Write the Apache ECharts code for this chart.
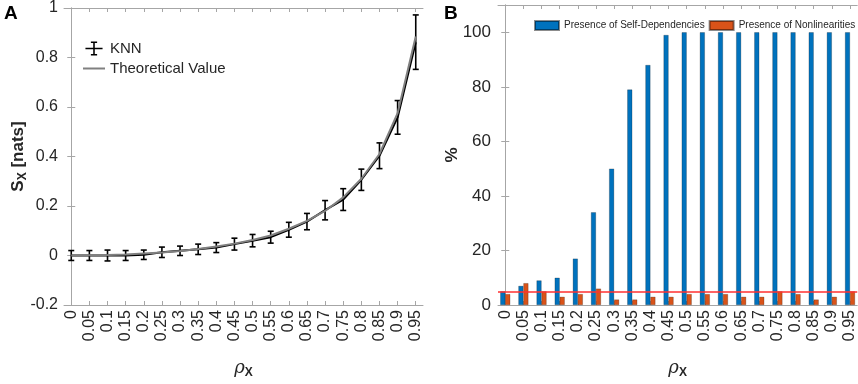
<!DOCTYPE html>
<html>
<head>
<meta charset="utf-8">
<script src="https://cdn.jsdelivr.net/npm/echarts@6/dist/echarts.min.js"></script>
<style>
html, body { margin: 0; padding: 0; background: #fff; }
#main { width: 858px; height: 384px; }
</style>
</head>
<body>
<div id="main"></div>
<script>
var rhoLabels = ['0', '0.05', '0.1', '0.15', '0.2', '0.25', '0.3', '0.35', '0.4', '0.45',
	'0.5', '0.55', '0.6', '0.65', '0.7', '0.75', '0.8', '0.85', '0.9', '0.95'];
var knnMean = [0, 0, 0, 0, 0.003, 0.013, 0.019, 0.025, 0.032, 0.046,
	0.06, 0.074, 0.104, 0.137, 0.183, 0.226, 0.306, 0.403, 0.558, 0.862];
var knnErr = [0.02, 0.02, 0.022, 0.02, 0.019, 0.021, 0.019, 0.021, 0.02, 0.024,
	0.025, 0.024, 0.03, 0.033, 0.039, 0.044, 0.043, 0.052, 0.068, 0.11];
var theory = [0, 0.001, 0.002, 0.004, 0.008, 0.012, 0.018, 0.026, 0.036, 0.048,
	0.063, 0.081, 0.108, 0.14, 0.18, 0.235, 0.31, 0.41, 0.575, 0.885];
var selfDep = [5, 7, 9, 10, 17, 34, 50, 79, 88, 99,
	100, 100, 100, 100, 100, 100, 100, 100, 100, 100];
var nonLin = [4, 8, 5, 3, 4, 6, 2, 2, 3, 3,
	4, 4, 4, 3, 3, 5, 4, 2, 3, 5];
var threshold = 5;

var rhoVals = rhoLabels.map(Number);
function pairs(ys) {
	return rhoVals.map(function(x, i) { return [x, ys[i]]; });
}

var labelColor = '#262626';
var lineColor = '#a6a6a6';
var font = 'Liberation Sans';

function xAxisDef(grid, show) {
	return {
		type: 'value',
		gridIndex: grid,
		min: -0.02,
		max: 0.97,
		position: show ? 'bottom' : 'top',
		axisLine: { show: true, onZero: false, lineStyle: { color: lineColor, width: 1 } },
		axisTick: { show: true, inside: true, length: 4, customValues: rhoVals, lineStyle: { color: lineColor } },
		axisLabel: {
			show: show,
			customValues: rhoVals,
			rotate: 90,
			color: labelColor,
			fontSize: 16,
			fontFamily: font,
			margin: 5,
			formatter: function(v) { return String(v); }
		},
		splitLine: { show: false },
		name: show ? '{r|ρ}{s|X}' : '',
		nameLocation: 'middle',
		nameGap: 52,
		nameMoveOverlap: false,
		nameTextStyle: {
			rich: {
				r: { fontSize: 18, fontStyle: 'italic', fontFamily: 'DejaVu Serif', color: labelColor },
				s: { fontSize: 12, fontWeight: 'bold', fontFamily: font, color: labelColor, padding: [10, 0, 0, 0] }
			}
		}
	};
}

var myChart = echarts.init(document.getElementById('main'));
var option = {
	backgroundColor: '#fff',
	animation: false,
	grid: [
		{ left: 64, right: 435, top: 5, bottom: 69 },
		{ left: 498, right: 0, top: 5, bottom: 69 }
	],
	graphic: [
		{ type: 'text', left: 4, top: 4, style: { text: 'A', font: 'bold 19px Liberation Sans', fill: '#000' } },
		{ type: 'text', left: 444, top: 4, style: { text: 'B', font: 'bold 19px Liberation Sans', fill: '#000' } }
	],
	legend: [{
		orient: 'vertical',
		left: 78,
		top: 36,
		itemGap: 5,
		itemWidth: 22,
		itemHeight: 14,
		textStyle: { fontSize: 15, fontFamily: font, color: labelColor },
		data: [
			{ name: 'KNN', icon: 'path://M0,9h22v2h-22z M10,1h2v18h-2z M7,1h8v2h-8z M7,17h8v2h-8z' },
			{ name: 'Theoretical Value', icon: 'path://M0,9h22v2h-22z' }
		]
	}, {
		orient: 'horizontal',
		left: 534,
		top: 20,
		padding: 0,
		itemGap: 4,
		itemWidth: 24,
		itemHeight: 9,
		textStyle: { fontSize: 10, fontFamily: font, color: labelColor },
		data: [
			{ name: 'Presence of Self-Dependencies', icon: 'rect' },
			{ name: 'Presence of Nonlinearities', icon: 'rect' }
		]
	}],
	xAxis: [xAxisDef(0, true), xAxisDef(0, false), xAxisDef(1, true), xAxisDef(1, false)],
	yAxis: [{
		type: 'value',
		gridIndex: 0,
		min: -0.2,
		max: 1,
		interval: 0.2,
		axisLine: { show: true, lineStyle: { color: lineColor } },
		axisTick: { show: true, inside: true, length: 4, lineStyle: { color: lineColor } },
		axisLabel: { color: labelColor, fontSize: 16, fontFamily: font, margin: 6 },
		splitLine: { show: false },
		name: '{a|S}{b|X}{a| [nats]}',
		nameLocation: 'middle',
		nameRotate: 90,
		nameGap: 35,
		nameMoveOverlap: false,
		nameTextStyle: {
			rich: {
				a: { fontSize: 17, fontWeight: 'bold', fontFamily: font, color: labelColor },
				b: { fontSize: 12, fontWeight: 'bold', fontFamily: font, color: labelColor, padding: [10, 0, 0, 0] }
			}
		}
	}, {
		type: 'value',
		gridIndex: 0,
		position: 'right',
		min: -0.2,
		max: 1,
		interval: 0.2,
		axisLine: { show: true, lineStyle: { color: lineColor } },
		axisTick: { show: true, inside: true, length: 4, lineStyle: { color: lineColor } },
		axisLabel: { show: false },
		splitLine: { show: false }
	}, {
		type: 'value',
		gridIndex: 1,
		min: 0,
		max: 110,
		interval: 20,
		axisLine: { show: true, lineStyle: { color: lineColor } },
		axisTick: { show: true, inside: true, length: 4, lineStyle: { color: lineColor } },
		axisLabel: { color: labelColor, fontSize: 17, fontFamily: font, margin: 7, showMaxLabel: false },
		splitLine: { show: false },
		name: '%',
		nameLocation: 'middle',
		nameRotate: 90,
		nameGap: 37,
		nameMoveOverlap: false,
		nameTextStyle: { fontSize: 17, fontWeight: 'bold', fontFamily: font, color: labelColor }
	}, {
		type: 'value',
		gridIndex: 1,
		position: 'right',
		min: 0,
		max: 110,
		interval: 20,
		axisLine: { show: true, lineStyle: { color: lineColor } },
		axisTick: { show: true, inside: true, length: 4, lineStyle: { color: lineColor } },
		axisLabel: { show: false },
		splitLine: { show: false }
	}],
	series: [{
		name: 'KNN',
		type: 'line',
		xAxisIndex: 0,
		yAxisIndex: 0,
		data: pairs(knnMean),
		showSymbol: false,
		symbol: 'none',
		color: '#000',
		lineStyle: { color: '#000', width: 2 },
		z: 2
	}, {
		name: 'KNN',
		type: 'custom',
		xAxisIndex: 0,
		yAxisIndex: 0,
		data: rhoVals.map(function(x, i) { return [x, knnMean[i] - knnErr[i], knnMean[i] + knnErr[i]]; }),
		renderItem: function(params, api) {
			var lo = api.coord([api.value(0), api.value(1)]);
			var hi = api.coord([api.value(0), api.value(2)]);
			var w = 3;
			var st = { stroke: '#000', lineWidth: 1.6 };
			return {
				type: 'group',
				children: [
					{ type: 'line', shape: { x1: lo[0], y1: lo[1], x2: hi[0], y2: hi[1] }, style: st },
					{ type: 'line', shape: { x1: lo[0] - w, y1: lo[1], x2: lo[0] + w, y2: lo[1] }, style: st },
					{ type: 'line', shape: { x1: hi[0] - w, y1: hi[1], x2: hi[0] + w, y2: hi[1] }, style: st }
				]
			};
		},
		color: '#000',
		z: 3
	}, {
		name: 'Theoretical Value',
		type: 'line',
		xAxisIndex: 0,
		yAxisIndex: 0,
		data: pairs(theory),
		showSymbol: false,
		symbol: 'none',
		color: '#808080',
		lineStyle: { color: '#808080', width: 2 },
		z: 4
	}, {
		name: 'Presence of Self-Dependencies',
		type: 'bar',
		xAxisIndex: 2,
		yAxisIndex: 2,
		data: pairs(selfDep),
		barWidth: 5,
		barGap: '0%',
		color: '#0072BD',
		itemStyle: { color: '#0072BD', borderColor: 'rgba(0,0,0,0.45)', borderWidth: 0.5 },
		markLine: {
			silent: true,
			symbol: 'none',
			label: { show: false },
			lineStyle: { color: '#ff3030', type: 'solid', width: 1.5 },
			data: [{ yAxis: threshold }],
			z: 10
		}
	}, {
		name: 'Presence of Nonlinearities',
		type: 'bar',
		xAxisIndex: 2,
		yAxisIndex: 2,
		data: pairs(nonLin),
		barWidth: 5,
		barGap: '0%',
		color: '#D95319',
		itemStyle: { color: '#D95319', borderColor: 'rgba(0,0,0,0.45)', borderWidth: 0.5 }
	}]
};
myChart.setOption(option);
</script>
</body>
</html>
